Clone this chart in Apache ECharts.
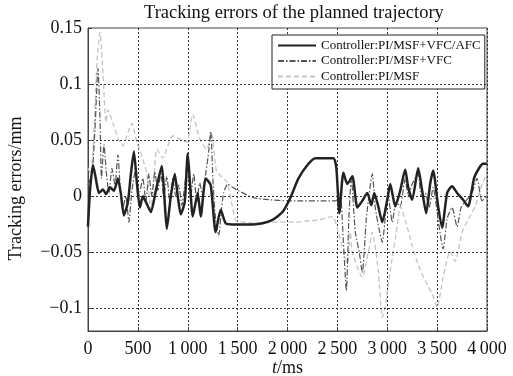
<!DOCTYPE html>
<html>
<head>
<meta charset="utf-8">
<script src="https://cdn.jsdelivr.net/npm/echarts@6/dist/echarts.min.js"></script>
<style>
  html, body { margin: 0; padding: 0; background: #fff; }
  #chart { width: 513px; height: 376px; }
</style>
</head>
<body>
<div id="chart"></div>
<script>
// time stamps (ms) and tracking errors (mm)
const tAfc = [0, 20, 50, 80, 110, 150, 180, 220, 260, 300, 330, 360, 400, 430, 460, 490, 520, 550, 580, 630,
  680, 740, 765, 790, 830, 870, 900, 930, 970, 1000, 1020, 1050, 1080, 1100, 1130, 1180, 1230, 1280, 1330, 1380,
  1450, 1650, 1750, 1850, 1950, 2030, 2110, 2210, 2280, 2460, 2490, 2520, 2560, 2600, 2650, 2700, 2750, 2800, 2840, 2870,
  2910, 2950, 3000, 3030, 3080, 3130, 3180, 3210, 3250, 3310, 3350, 3390, 3430, 3460, 3510, 3550, 3600, 3650, 3700, 3760,
  3810, 3870, 3920, 3960, 4000]
const vAfc = [-0.027, 0.005, 0.028, 0.015, 0.003, 0.006, 0.002, 0.008, 0.005, 0.016, 0.002, -0.017, -0.005, 0.02, 0.040, 0.012, -0.01, 0.0, -0.005, -0.014,
  0.005, 0.027, 0.0, -0.029, 0.0, 0.020, 0.0, -0.016, -0.005, 0.038, 0.015, -0.018, -0.005, 0.003, -0.018, 0.016, 0.010, -0.032, -0.012, -0.024,
  -0.025, -0.025, -0.024, -0.021, -0.014, -0.001, 0.016, 0.029, 0.034, 0.034, 0.025, -0.015, 0.021, 0.011, 0.018, -0.010, -0.004, 0.003, -0.008, 0.003,
  -0.009, -0.023, -0.003, 0.011, -0.009, 0.005, 0.024, 0.008, -0.003, 0.025, 0.005, -0.015, 0.011, 0.023, -0.009, -0.028, 0.003, 0.009, 0.003, -0.003,
  -0.009, 0.016, 0.025, 0.029, 0.029]

const tVfc = [0, 40, 70, 100, 120, 135, 160, 185, 210, 240, 270, 300, 325, 350, 380, 410, 440, 480, 510, 550,
  580, 610, 640, 670, 700, 730, 760, 790, 820, 850, 880, 910, 940, 970, 1000, 1030, 1060, 1090, 1120, 1150,
  1180, 1210, 1230, 1255, 1280, 1310, 1340, 1360, 1400, 1450, 1510, 1650, 1810, 2010, 2480, 2510, 2530, 2560, 2590, 2615,
  2640, 2680, 2720, 2750, 2790, 2830, 2850, 2880, 2920, 2950, 2990, 3010, 3050, 3090, 3130, 3180, 3210, 3250, 3310, 3340,
  3380, 3420, 3460, 3510, 3560, 3600, 3650, 3700, 3740, 3780, 3850, 3900, 3950, 4000]
const vVfc = [0.01, 0.02, 0.06, 0.114, 0.07, 0.016, 0.046, 0.02, 0.003, 0.025, 0.01, 0.037, 0.005, -0.01, 0.0, -0.023, 0.005, 0.025, 0.0, 0.016,
  -0.005, 0.02, 0.0, 0.022, 0.005, 0.02, 0.0, 0.018, -0.005, 0.016, 0.0, 0.01, -0.008, 0.01, 0.035, 0.0, 0.02, -0.005, 0.012, 0.0,
  0.02, 0.04, 0.058, 0.01, -0.021, -0.035, -0.01, 0.003, 0.011, 0.008, 0.005, -0.001, -0.003, -0.004, -0.004, -0.002, 0.003, -0.04, -0.084, -0.02,
  0.016, -0.032, -0.05, -0.068, -0.02, 0.01, 0.020, -0.01, -0.03, -0.041, -0.01, 0.0, -0.023, -0.005, -0.009, 0.016, 0.0, 0.011, 0.020, 0.0,
  0.003, -0.01, 0.008, -0.021, -0.047, -0.02, -0.01, -0.027, -0.01, -0.005, 0.003, 0.016, -0.004, 0.0]

const tMsf = [0, 30, 60, 90, 120, 150, 180, 200, 250, 300, 350, 390, 440, 490, 540, 590, 630, 660, 690, 750,
  800, 850, 920, 990, 1050, 1120, 1190, 1240, 1290, 1390, 1450, 1480, 1550, 1700, 1900, 2080, 2180, 2310, 2450, 2510,
  2560, 2600, 2630, 2650, 2750, 2810, 2850, 2910, 2950, 2980, 3030, 3100, 3130, 3180, 3250, 3310, 3380, 3450, 3500, 3560,
  3630, 3680, 3750, 3810, 3880, 3950, 4000]
const vMsf = [0.025, 0.02, 0.06, 0.12, 0.146, 0.11, 0.066, 0.077, 0.065, 0.052, 0.045, 0.054, 0.065, 0.048, 0.036, 0.02, -0.012, 0.015, 0.042, 0.034,
  0.045, 0.054, 0.051, 0.048, 0.073, 0.051, 0.042, 0.056, 0.022, 0.013, -0.01, -0.021, -0.023, -0.024, -0.023, -0.023, -0.022, -0.021, -0.018, -0.032,
  -0.049, -0.06, -0.032, -0.05, -0.072, -0.05, -0.032, -0.066, -0.108, -0.098, -0.066, -0.027, -0.009, -0.021, -0.044, -0.061, -0.075, -0.087, -0.099, -0.072,
  -0.049, -0.058, -0.032, -0.021, -0.009, 0.011, 0.020]

const yTicks = [-0.1, -0.05, 0, 0.05, 0.1, 0.15]
const yGrid = [-0.1, -0.05, 0, 0.05, 0.1]

function zip(t, v) {
  let data = []
  for (let i = 0; i < t.length; i++) {
    data.push([t[i], v[i]])
  }
  return data
}

const serif = 'Liberation Serif, Times New Roman, serif'
const gridLine = {color: '#333', width: 1, type: [2, 2]}

const option = {
  animation: false,
  backgroundColor: '#fff',
  title: {
    text: 'Tracking errors of the planned trajectory',
    left: 139,
    top: -1,
    textStyle: {fontFamily: serif, fontSize: 18.5, fontWeight: 'normal', color: '#111'}
  },
  legend: {
    orient: 'vertical',
    left: 272,
    top: 35,
    itemWidth: 38,
    itemHeight: 14,
    itemGap: 2.5,
    padding: [4, 4, 6, 5],
    backgroundColor: '#fff',
    borderColor: '#222',
    borderWidth: 1,
    itemStyle: {opacity: 0},
    textStyle: {fontFamily: serif, fontSize: 13, color: '#111'},
    data: ['Controller:PI/MSF+VFC/AFC', 'Controller:PI/MSF+VFC', 'Controller:PI/MSF']
  },
  grid: {
    left: 88, right: 26, top: 28, bottom: 45,
    outerBoundsMode: 'none',
    containLabel: false,
    show: true, borderColor: '#444', borderWidth: 1
  },
  xAxis: {
    type: 'value',
    min: 0, max: 4000, interval: 500,
    name: '{i|t}/ms',
    nameLocation: 'middle',
    nameGap: 28,
    nameMoveOverlap: false,
    nameTextStyle: {
      fontFamily: serif, fontSize: 18, color: '#111',
      rich: {i: {fontFamily: serif, fontSize: 18, fontStyle: 'italic', color: '#111'}}
    },
    axisLine: {show: true, onZero: false, lineStyle: {color: '#444'}},
    axisTick: {show: true, inside: true, length: 4, lineStyle: {color: '#444'}},
    axisLabel: {
      fontFamily: serif, fontSize: 18, color: '#111', margin: 9,
      formatter: v => v >= 1000 ? Math.floor(v / 1000) + '\u2009' + String(v % 1000).padStart(3, '0') : String(v)
    },
    splitLine: {show: true, lineStyle: gridLine}
  },
  yAxis: {
    type: 'value',
    min: -0.12, max: 0.15,
    name: 'Tracking errors/mm',
    nameLocation: 'middle',
    nameGap: 63,
    nameMoveOverlap: false,
    nameTextStyle: {fontFamily: serif, fontSize: 18, color: '#111', padding: [0, 18, 0, 0]},
    axisLine: {show: true, onZero: false, lineStyle: {color: '#444'}},
    axisTick: {show: true, inside: true, length: 4, customValues: yTicks, lineStyle: {color: '#444'}},
    axisLabel: {
      fontFamily: serif, fontSize: 18, color: '#111', margin: 6,
      customValues: yTicks,
      formatter: v => v < 0 ? '\u2212' + String(Math.abs(v)) : String(v)
    },
    splitLine: {show: false}
  },
  series: [
    {
      name: 'grid',
      type: 'line',
      data: [],
      z: 1,
      silent: true,
      markLine: {
        silent: true,
        symbol: 'none',
        label: {show: false},
        lineStyle: gridLine,
        data: yGrid.map(v => ({yAxis: v}))
      }
    },
    {
      name: 'Controller:PI/MSF',
      type: 'line',
      data: zip(tMsf, vMsf),
      symbol: 'none',
      smooth: 0.2,
      z: 2,
      lineStyle: {color: '#c4c4c4', width: 1.3, type: [5, 3]},
      itemStyle: {color: '#c4c4c4'}
    },
    {
      name: 'Controller:PI/MSF+VFC',
      type: 'line',
      data: zip(tVfc, vVfc),
      symbol: 'none',
      smooth: 0.2,
      z: 3,
      lineStyle: {color: '#555', width: 1.2, type: [6, 2, 1.5, 2]},
      itemStyle: {color: '#555'}
    },
    {
      name: 'Controller:PI/MSF+VFC/AFC',
      type: 'line',
      data: zip(tAfc, vAfc),
      symbol: 'none',
      smooth: 0.2,
      z: 4,
      lineStyle: {color: '#222', width: 2.5},
      itemStyle: {color: '#222'}
    }
  ]
}

const myChart = echarts.init(document.getElementById('chart'))
myChart.setOption(option)
</script>
</body>
</html>
